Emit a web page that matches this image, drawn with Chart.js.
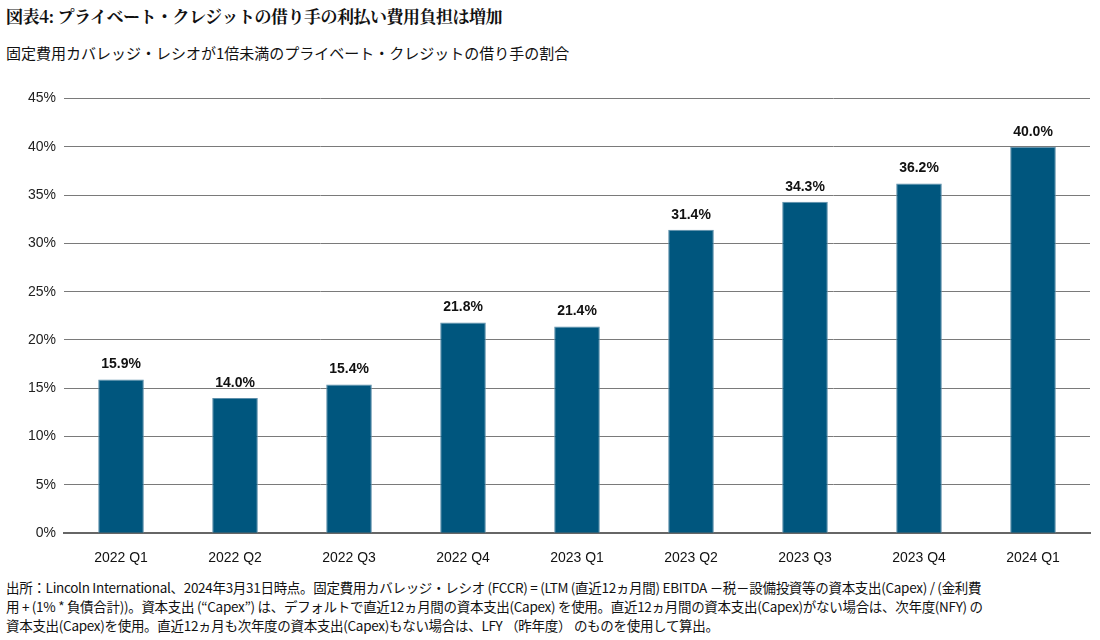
<!DOCTYPE html>
<html>
<head>
<meta charset="utf-8">
<script src="https://cdn.jsdelivr.net/npm/chart.js@4"></script>
<style>
body { margin: 0; background: #fff; width: 1100px; height: 640px; overflow: hidden; position: relative;
  font-family: "Liberation Sans Narrow", "Noto Sans CJK JP", sans-serif; color: #111; }
#title { position: absolute; left: 6px; top: 3px; font-size: 17px; font-weight: bold;
  font-family: "Noto Serif CJK JP", "Noto Sans CJK JP", serif; letter-spacing: -0.5px; }
#sub { position: absolute; left: 6px; top: 42px; font-size: 15px; font-family: "Liberation Sans Narrow", "Noto Sans CJK JP", sans-serif; }
#box { position: absolute; left: 0; top: 82px; width: 1100px; height: 494px; }
#note { position: absolute; left: 6px; top: 578px; font-size: 13.5px; line-height: 19px; letter-spacing: -0.3px;
  font-family: "Liberation Sans Narrow", "Noto Sans CJK JP", sans-serif; }
</style>
</head>
<body>
<div id="title">図表4: プライベート・クレジットの借り手の利払い費用負担は増加</div>
<div id="sub">固定費用カバレッジ・レシオが1倍未満のプライベート・クレジットの借り手の割合</div>
<div id="box"><canvas id="grafico"></canvas></div>
<div id="note">出所：Lincoln International、2024年3月31日時点。固定費用カバレッジ・レシオ (FCCR) = (LTM (直近12ヵ月間) EBITDA －税－設備投資等の資本支出(Capex) / (金利費<br>用 + (1% * 負債合計))。資本支出 (“Capex”) は、デフォルトで直近12ヵ月間の資本支出(Capex) を使用。直近12ヵ月間の資本支出(Capex)がない場合は、次年度(NFY) の<br>資本支出(Capex)を使用。直近12ヵ月も次年度の資本支出(Capex)もない場合は、LFY （昨年度） のものを使用して算出。</div>
<script>
var trimestres = ["2022 Q1", "2022 Q2", "2022 Q3", "2022 Q4", "2023 Q1", "2023 Q2", "2023 Q3", "2023 Q4", "2024 Q1"];
var porcentajes = [15.9, 14.0, 15.4, 21.8, 21.4, 31.4, 34.3, 36.2, 40.0];
var fuente = "'Liberation Sans Narrow', 'Arial Narrow', sans-serif";

var etiquetas = {
    id: "etiquetas",
    afterDatasetsDraw: function (chart) {
        var ctx = chart.ctx;
        var meta = chart.getDatasetMeta(0);
        ctx.save();
        ctx.font = "bold 14px " + fuente;
        ctx.fillStyle = "#111";
        ctx.textAlign = "center";
        ctx.textBaseline = "bottom";
        meta.data.forEach(function (barra, i) {
            ctx.fillText(porcentajes[i].toFixed(1) + "%", barra.x, barra.y - 8);
        });
        ctx.restore();
    }
};

new Chart(document.getElementById("grafico"), {
    type: "bar",
    data: {
        labels: trimestres,
        datasets: [{
            data: porcentajes,
            backgroundColor: "#00567e",
            borderColor: "#5d8fab",
            borderWidth: { top: 1, left: 1, right: 1, bottom: 0 },
            categoryPercentage: 1,
            barPercentage: 0.4
        }]
    },
    options: {
        responsive: true,
        maintainAspectRatio: false,
        animation: false,
        layout: { padding: { top: 14, right: 10, left: 20, bottom: 0 } },
        plugins: { legend: { display: false }, tooltip: { enabled: false } },
        scales: {
            x: {
                grid: { display: false },
                border: { color: "#666", width: 2 },
                ticks: { color: "#111", font: { family: fuente, size: 14 }, padding: 9 }
            },
            y: {
                min: 0, max: 45,
                grid: { color: "#7a7a7a", lineWidth: 1, drawTicks: false },
                border: { display: false },
                ticks: {
                    stepSize: 5, padding: 8, color: "#222",
                    font: { family: fuente, size: 14 },
                    callback: function (v) { return v + "%"; }
                }
            }
        }
    },
    plugins: [etiquetas]
});
</script>
</body>
</html>
